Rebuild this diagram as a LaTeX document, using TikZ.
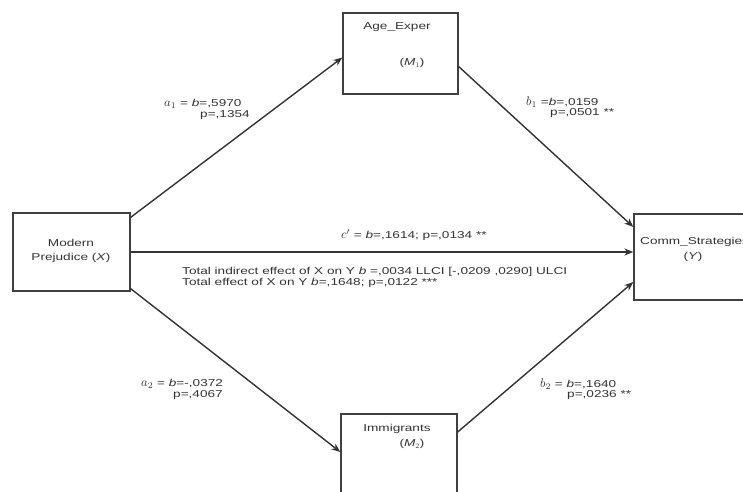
\documentclass[tikz,border=0pt]{standalone}
\usepackage{fontspec}
\setsansfont[FakeStretch=1.36]{Liberation Sans}
\usetikzlibrary{arrows.meta}
\tikzset{
  box/.style={rectangle, draw=black!75, line width=1.3pt, fill=white, inner sep=0pt},
  txt/.style={font=\sffamily\fontsize{10}{11}\selectfont, text=black!80, inner sep=0pt},
  path/.style={-{Stealth[length=9pt, width=7pt]}, line width=1.4pt, black!80}
}
\newcommand{\coef}[1]{\scalebox{1.25}{$#1$}}
\begin{document}
\begin{tikzpicture}[x=1pt, y=-1pt]
\clip (0,0) rectangle (743,491);
\fill[white] (0,0) rectangle (743,491);
% boxes
\node[box, minimum width=117pt, minimum height=78pt] (x) at (71.5,252) {};
\node[box, minimum width=115pt, minimum height=81pt] (age) at (400.5,53.5) {};
\node[box, minimum width=116pt, minimum height=86pt] (imm) at (399,457) {};
\node[box, minimum width=126pt, minimum height=86pt] (y) at (697,257) {};
% box texts
\node[txt] (xa) at (71,243) {Modern};
\node[txt] (xb) at (71,258) {Prejudice (\textit{X})};
\node[txt] (agea) at (397,27) {Age\_Exper};
\node[txt] (ageb) at (412,63) {(\textit{M}$_1$)};
\node[txt] (imma) at (397,429) {Immigrants};
\node[txt] (immb) at (412,444) {(\textit{M}$_2$)};
\node[txt, anchor=west] (ya) at (640,242) {Comm\_Strategies};
\node[txt] (yb) at (693,257) {(\textit{Y})};
% paths
\draw[path] ([yshift=-5pt]x.north east) -- ([yshift=-4pt]age.west);
\draw[path] ([yshift=-13pt]age.east) -- ([yshift=30pt]y.west);
\draw[path] (x.east) -- (x.east -| y.west);
\draw[path] ([yshift=3pt]x.south east) -- ([yshift=5pt]imm.west);
\draw[path] ([yshift=25pt]imm.east) -- ([yshift=-25pt]y.west);
% coefficients
\node[txt, anchor=west] (a1) at (164,104) {\coef{a_1} = \textit{b}=,5970};
\node[txt, anchor=west] (a1p) at (200,115) {p=,1354};
\node[txt, anchor=west] (b1) at (526,102) {\coef{b_1} =\textit{b}=,0159};
\node[txt, anchor=west] (b1p) at (550,113) {p=,0501 **};
\node[txt, anchor=west] (c) at (341,235) {\coef{c'} = \textit{b}=,1614; p=,0134 **};
\node[txt, anchor=west] (ind) at (182,272) {Total indirect effect of X on Y \textit{b} =,0034 LLCI [-,0209 ,0290] ULCI};
\node[txt, anchor=west] (tot) at (182,283) {Total effect of X on Y \textit{b}=,1648; p=,0122 ***};
\node[txt, anchor=west] (a2) at (141,384) {\coef{a_2} = \textit{b}=-,0372};
\node[txt, anchor=west] (a2p) at (173,395) {p=,4067};
\node[txt, anchor=west] (b2) at (540,384) {\coef{b_2} = \textit{b}=,1640};
\node[txt, anchor=west] (b2p) at (567,395) {p=,0236 **};
\end{tikzpicture}
\end{document}
